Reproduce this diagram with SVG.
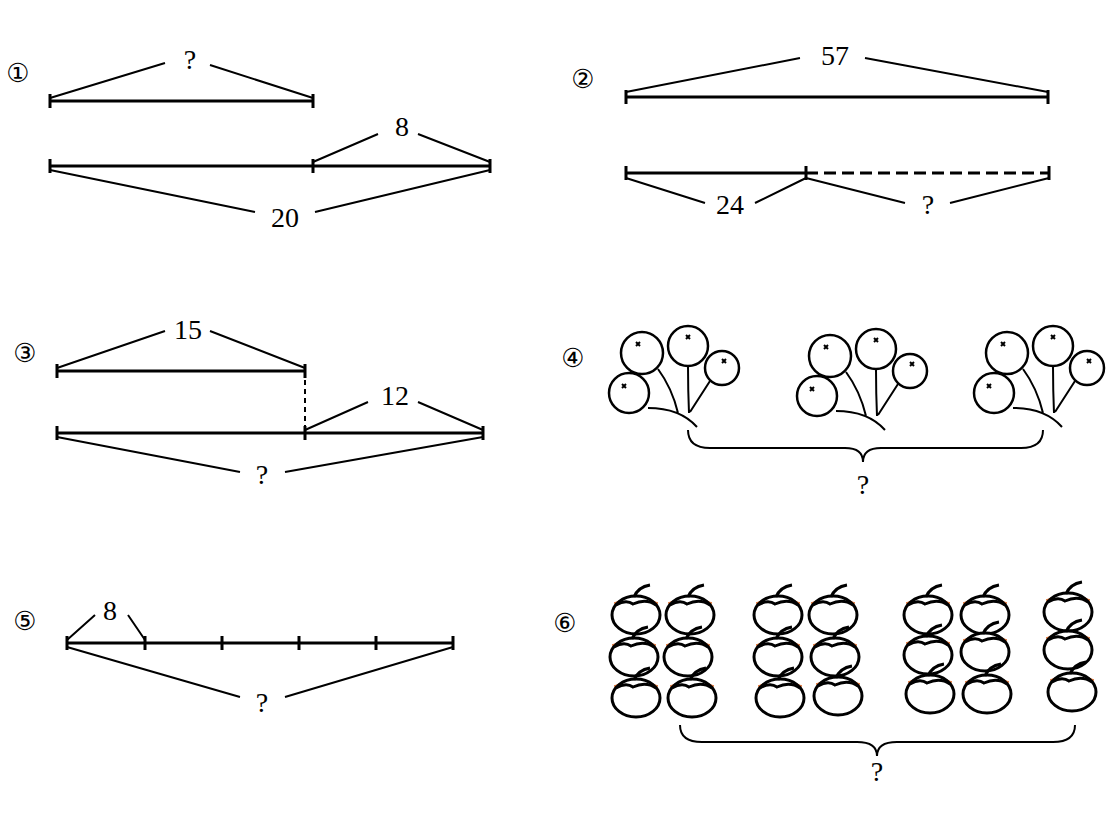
<svg xmlns="http://www.w3.org/2000/svg" width="1114" height="826" viewBox="0 0 1114 826">
<style>
.l{stroke:#000;stroke-width:2;fill:none}
.b{stroke:#000;stroke-width:3;fill:none}
.t{font-family:"Liberation Serif",serif;font-size:28px;text-anchor:middle}
.c{font-family:"DejaVu Sans",sans-serif;font-size:26px;text-anchor:middle}
</style>
<defs>
<g id="bal">
<circle cx="642" cy="353" r="21" fill="#fff" stroke="#000" stroke-width="2.5"/>
<circle cx="688" cy="346" r="20" fill="#fff" stroke="#000" stroke-width="2.5"/>
<circle cx="722" cy="368" r="17" fill="#fff" stroke="#000" stroke-width="2.5"/>
<circle cx="629" cy="393" r="20" fill="#fff" stroke="#000" stroke-width="2.5"/>
<path class="l" d="M658 369 Q672 388 678 413 M688 366 Q688 390 689 413 M710 381 L690 412 M648 408 Q680 408 697 427"/>
<path class="l" stroke-width="1.5" d="M636 342l4 4m0-4l-4 4M686 335l4 4m0-4l-4 4M722 359l4 4m0-4l-4 4M622 384l4 4m0-4l-4 4"/>
</g>
<g id="ap">
<path d="M-22 -12 Q0 -24 22 -12 Q0 -6 -22 -12Z" fill="#fde6d5" stroke="#e07030" stroke-width="1"/>
<ellipse cx="0" cy="0" rx="24" ry="19" fill="#fff" stroke="#000" stroke-width="3"/>
<path class="b" d="M-20 -10 Q-10 -16 -3 -11 Q10 -17 20 -10 M-2 -18 Q2 -28 14 -30"/>
</g>
</defs>
<g id="labels">
<text class="c" x="18" y="82">①</text><text class="c" x="583" y="88">②</text>
<text class="c" x="25" y="362">③</text><text class="c" x="573" y="367">④</text>
<text class="c" x="25" y="630">⑤</text><text class="c" x="565" y="632">⑥</text>
</g>
<g id="p1">
<path class="b" d="M50 101H313M50 94v14M313 94v14M50 166H490M50 159v14M313 159v14M490 159v14"/>
<path class="l" d="M50 98L165 63M210 65L313 98M313 162L378 134M418 134L490 162M50 170L255 212M315 212L490 170"/>
<text class="t" x="190" y="69">?</text><text class="t" x="402" y="136">8</text><text class="t" x="285" y="227">20</text>
</g>
<g id="p2">
<path class="b" d="M626 97H1048M626 90v14M1048 90v14M626 173H806M626 166v14M806 166v14M1049 166v14"/>
<path class="b" stroke-dasharray="12,6" d="M806 173H1049"/>
<path class="l" d="M626 92L800 58M865 58L1048 92M626 178L705 203M755 203L806 178M806 178L905 203M950 203L1049 178"/>
<text class="t" x="835" y="65">57</text><text class="t" x="730" y="214">24</text><text class="t" x="928" y="214">?</text>
</g>
<g id="p3">
<path class="b" d="M57 371H305M57 364v14M305 364v14M57 433H483M57 426v14M305 426v14M483 426v14"/>
<path class="l" stroke-dasharray="5,4" d="M305 371V433"/>
<path class="l" d="M57 368L165 331M210 331L305 368M305 430L368 402M418 402L483 430M57 437L240 472M285 472L483 437"/>
<text class="t" x="188" y="339">15</text><text class="t" x="395" y="405">12</text><text class="t" x="262" y="484">?</text>
</g>
<g id="p5">
<path class="b" d="M67 643H453M67 636v14M145 636v14M222 636v14M299 636v14M376 636v14M453 636v14"/>
<path class="l" d="M67 640L95 615M128 615L145 640M67 647L240 697M285 697L453 647"/>
<text class="t" x="110" y="620">8</text><text class="t" x="262" y="712">?</text>
</g>
<g id="p4">
<use href="#bal"/><use href="#bal" x="188" y="3"/><use href="#bal" x="365" y="0"/>
<path class="l" d="M688 430 Q688 448 710 448 H845 Q863 448 863 462 Q863 448 881 448 H1021 Q1043 448 1043 430"/>
<text class="t" x="863" y="494">?</text>
</g>
<g id="p6">
<use href="#ap" x="636" y="615"/><use href="#ap" x="690" y="615"/><use href="#ap" x="778" y="615"/><use href="#ap" x="833" y="615"/><use href="#ap" x="928" y="615"/><use href="#ap" x="985" y="615"/><use href="#ap" x="1068" y="612"/>
<use href="#ap" x="634" y="657"/><use href="#ap" x="688" y="657"/><use href="#ap" x="778" y="657"/><use href="#ap" x="835" y="657"/><use href="#ap" x="928" y="655"/><use href="#ap" x="985" y="652"/><use href="#ap" x="1068" y="650"/>
<use href="#ap" x="636" y="698"/><use href="#ap" x="692" y="698"/><use href="#ap" x="780" y="698"/><use href="#ap" x="838" y="696"/><use href="#ap" x="930" y="694"/><use href="#ap" x="987" y="694"/><use href="#ap" x="1072" y="692"/>
<path class="l" d="M680 725 Q680 742 702 742 H857 Q877 742 877 756 Q877 742 897 742 H1053 Q1075 742 1075 725"/>
<text class="t" x="877" y="781">?</text>
</g>
</svg>
